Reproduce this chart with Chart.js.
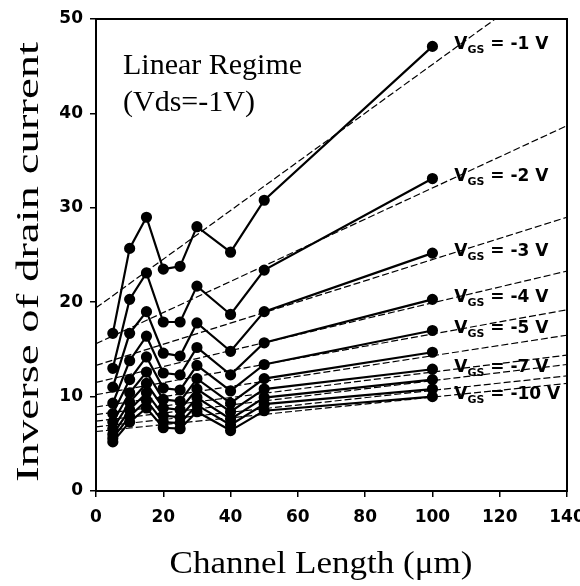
<!DOCTYPE html>
<html><head><meta charset="utf-8">
<script src="https://cdn.jsdelivr.net/npm/chart.js@4.4.0/dist/chart.umd.min.js"></script>
<style>html,body{margin:0;padding:0;background:#fff}#wrap{width:580px;height:586px;position:relative}</style>
</head><body><div id="wrap"><canvas id="c" width="580" height="586"></canvas></div>
<script>
// ---- data ----
const channelLength = [5, 10, 15, 20, 25, 30, 40, 50, 100];
const gateVoltages = ['-1 V', '-2 V', '-3 V', '-4 V', '-5 V', '-6 V', '-7 V', '-8 V', '-9 V', '-10 V'];
const inv_vgs1  = [16.7, 25.7, 29.0, 23.5, 23.8, 28.0, 25.3, 30.8, 47.1];
const inv_vgs2  = [13.0, 20.3, 23.1, 17.9, 17.9, 21.7, 18.7, 23.4, 33.1];
const inv_vgs3  = [11.0, 16.7, 19.0, 14.6, 14.3, 17.8, 14.8, 19.0, 25.2];
const inv_vgs4  = [9.3, 13.8, 16.4, 12.5, 12.3, 15.2, 12.3, 15.7, 20.3];
const inv_vgs5  = [8.2, 11.8, 14.2, 10.9, 10.7, 13.3, 10.6, 13.4, 17.0];
const inv_vgs6  = [7.3, 10.4, 12.6, 9.7, 9.5, 11.9, 9.3, 11.9, 14.7];
const inv_vgs7  = [6.6, 9.4, 11.4, 8.8, 8.6, 10.8, 8.4, 10.8, 12.9];
const inv_vgs8  = [6.0, 8.6, 10.4, 8.0, 7.8, 9.9, 7.6, 9.9, 11.8];
const inv_vgs9  = [5.6, 7.9, 9.6, 7.3, 7.2, 9.1, 7.0, 9.2, 10.8];
const inv_vgs10 = [5.2, 7.3, 8.8, 6.7, 6.6, 8.4, 6.4, 8.5, 10.0];
const seriesValues = [inv_vgs1, inv_vgs2, inv_vgs3, inv_vgs4, inv_vgs5, inv_vgs6, inv_vgs7, inv_vgs8, inv_vgs9, inv_vgs10];
// linear fits: value at L = 0 and at L = 140
const fitX = [0, 140];
const fitStart = [19.4, 15.6, 13.3, 11.5, 10.2, 8.9, 8.1, 7.4, 6.8, 6.3];
const fitEnd   = [55.5, 38.7, 29.0, 23.3, 19.2, 16.5, 14.4, 13.4, 12.2, 11.4];
const labelledSeries = ['-1 V', '-2 V', '-3 V', '-4 V', '-5 V', null, '-7 V', null, null, '-10 V'];
const xTicks = [0, 20, 40, 60, 80, 100, 120, 140];
const yTicks = [0, 10, 20, 30, 40, 50];
const xTitle = 'Channel Length (\u03bcm)';
const yTitle = 'Inverse of drain current';
const annotation = ['Linear Regime', '(Vds=-1V)'];

// ---- datasets ----
const datasets = [];
seriesValues.forEach((vals, i) => {
  datasets.push({
    label: 'VGS = ' + gateVoltages[i] + ' fit',
    data: fitX.map((xv, k) => ({ x: xv, y: k === 0 ? fitStart[i] : fitEnd[i] })),
    borderColor: '#000', borderWidth: 1.2, borderDash: [7, 3],
    pointRadius: 0, fill: false, tension: 0
  });
  datasets.push({
    label: 'VGS = ' + gateVoltages[i],
    data: channelLength.map((xv, k) => ({ x: xv, y: vals[k] })),
    borderColor: '#000', borderWidth: 2.2, backgroundColor: '#000',
    pointRadius: 4.5, pointBackgroundColor: '#000', pointBorderColor: '#000',
    pointStyle: 'circle', fill: false, tension: 0
  });
});

function stretchedText(ctx, text, cx, baseY, targetW, rot) {
  ctx.save();
  ctx.translate(cx, baseY);
  if (rot) ctx.rotate(rot);
  const w = ctx.measureText(text).width;
  ctx.scale(targetW / w, 1);
  ctx.textAlign = 'center';
  ctx.textBaseline = 'alphabetic';
  ctx.fillText(text, 0, 0);
  ctx.restore();
}

const decor = {
  id: 'decor',
  afterDraw(chart) {
    const { ctx, chartArea: a, scales } = chart;
    const xs = scales.x, ys = scales.y;
    ctx.save();
    ctx.strokeStyle = '#000';
    ctx.lineWidth = 2;
    ctx.strokeRect(a.left, a.top, a.right - a.left, a.bottom - a.top);
    ctx.fillStyle = '#000';
    // annotation
    ctx.font = '30px "Liberation Serif"';
    ctx.textAlign = 'left';
    ctx.textBaseline = 'alphabetic';
    ctx.fillText(annotation[0], 123, 74);
    ctx.fillText(annotation[1], 123, 111);
    // axis titles
    ctx.font = '32px "Liberation Serif"';
    stretchedText(ctx, xTitle, 321, 573, 303, 0);
    stretchedText(ctx, yTitle, 38, 262, 440, -Math.PI / 2);
    // series labels
    labelledSeries.forEach((lab, i) => {
      if (!lab) return;
      const vals = seriesValues[i];
      let px = xs.getPixelForValue(106.5);
      const py = ys.getPixelForValue(vals[vals.length - 1]) - 2;
      ctx.textAlign = 'left';
      ctx.textBaseline = 'middle';
      ctx.font = 'bold 17px "DejaVu Sans"';
      ctx.fillText('V', px, py);
      px += ctx.measureText('V').width;
      ctx.font = 'bold 11px "DejaVu Sans"';
      ctx.fillText('GS', px, py + 6);
      px += ctx.measureText('GS').width;
      ctx.font = 'bold 17px "DejaVu Sans"';
      ctx.fillText(' = ' + lab, px, py);
    });
    ctx.restore();
  }
};

new Chart(document.getElementById('c'), {
  type: 'line',
  data: { datasets },
  options: {
    responsive: false,
    animation: false,
    devicePixelRatio: 1,
    layout: { padding: { left: 46, right: 13, top: 19, bottom: 55 } },
    plugins: { legend: { display: false }, tooltip: { enabled: false }, title: { display: false } },
    scales: {
      x: {
        type: 'linear', min: 0, max: 140,
        afterBuildTicks: s => { s.ticks = xTicks.map(v => ({ value: v })); },
        ticks: { color: '#000', font: { family: 'DejaVu Sans', weight: 'bold', size: 17 }, padding: 10, maxRotation: 0 },
        grid: { display: true, drawOnChartArea: false, drawTicks: true, tickLength: 6, color: '#000', lineWidth: 1.5 },
        border: { display: true, color: '#000', width: 2 },
        afterFit: s => { s.height = 40; s.paddingLeft = 0; s.paddingRight = 0; }
      },
      y: {
        type: 'linear', min: 0, max: 50,
        afterBuildTicks: s => { s.ticks = yTicks.map(v => ({ value: v })); },
        ticks: { color: '#000', font: { family: 'DejaVu Sans', weight: 'bold', size: 17 }, padding: 7 },
        grid: { display: true, drawOnChartArea: false, drawTicks: true, tickLength: 6, color: '#000', lineWidth: 1.5 },
        border: { display: true, color: '#000', width: 2 },
        afterFit: s => { s.width = 50; s.paddingTop = 0; s.paddingBottom = 0; }
      }
    }
  },
  plugins: [decor]
});
</script>
</body></html>
